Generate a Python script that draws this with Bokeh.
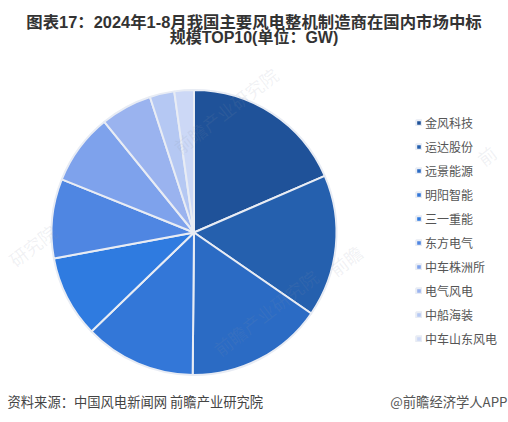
from math import pi
from bokeh.plotting import figure
from bokeh.models import ColumnDataSource, Label, Legend, LegendItem, Range1d
from bokeh.embed import file_html
from bokeh.resources import INLINE

companies = ["金风科技", "运达股份", "远景能源", "明阳智能", "三一重能", "东方电气", "中车株洲所", "电气风电", "中船海装", "中车山东风电"]
values = [11.1, 9.67, 9.32, 7.58, 5.58, 5.4, 4.85, 3.5, 1.67, 1.33]
colors = ["#1f5299", "#2560ae", "#2b6bc4", "#3377d8", "#2f7be0", "#4f86e2", "#7ea2ec", "#9ab3ef", "#b5c8f3", "#ccd8f6"]
title_lines = ["图表17：2024年1-8月我国主要风电整机制造商在国内市场中标", "规模TOP10(单位：GW)"]
title_sizes = ["16.4px", "16px"]
source_text = "资料来源：中国风电新闻网 前瞻产业研究院"
credit_text = "@前瞻经济学人APP"
watermarks = ["前瞻产业研究院", "前瞻产业研究院", "研究院", "前瞻", "前"]

W, H = 508, 422
FONT = "Noto Sans CJK SC"
CX, CY, R = 193.5, H - 232, 142.5

total = sum(values)
starts, ends = [], []
acc = 0.0
for v in values:
    starts.append(pi / 2 - acc / total * 2 * pi)
    acc += v
    ends.append(pi / 2 - acc / total * 2 * pi)

p = figure(width=W, height=H, output_backend="svg", toolbar_location=None,
           x_range=Range1d(0, W), y_range=Range1d(0, H), min_border=0,
           border_fill_color="white", background_fill_color="white", outline_line_color=None)
p.axis.visible = False
p.grid.visible = False

src = ColumnDataSource(dict(name=companies, value=values, start=starts, end=ends, color=colors))
r = p.wedge(x=CX, y=CY, radius=R, start_angle="end", end_angle="start", direction="anticlock",
            fill_color="color", line_color="#e8ecf4", line_width=2, source=src)

for x, py, t in zip([225, 265, 32, 345, 486], [110, 312, 245, 260, 155], watermarks):
    p.add_layout(Label(x=x, y=H - py, text=t, angle=0.66, text_font=FONT, text_font_size="18px",
                       text_color="#8a93a8", text_alpha=0.13, text_align="center", text_baseline="middle"))

items = [LegendItem(label=c, renderers=[r], index=i) for i, c in enumerate(companies)]
legend = Legend(items=items, location=(415, 75), orientation="vertical",
                background_fill_alpha=0, border_line_color=None,
                label_text_font=FONT, label_text_font_size="12px", label_text_color="#555555",
                glyph_width=7, glyph_height=7, spacing=7, padding=0, margin=0, label_standoff=3,
                label_height=15, label_width=60)
p.add_layout(legend)

for t, py, fs in zip(title_lines, [21, 37], title_sizes):
    p.add_layout(Label(x=253.5, y=H - py, text=t, text_font="Liberation Sans, Noto Sans CJK SC", text_font_size=fs,
                       text_font_style="bold", text_color="#333333", text_align="center",
                       text_baseline="middle"))
p.add_layout(Label(x=7, y=H - 401, text=source_text, text_font=FONT, text_font_size="13.3px",
                   text_color="#444444", text_baseline="middle"))
p.add_layout(Label(x=507, y=H - 401, text=credit_text, text_font=FONT, text_font_size="13.3px",
                   text_color="#555555", text_align="right", text_baseline="middle"))

open("out.html", "w").write(file_html(p, INLINE))
